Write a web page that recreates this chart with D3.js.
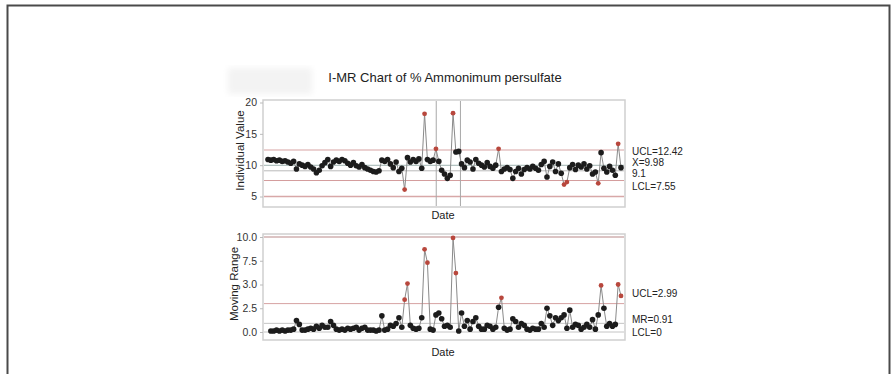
<!DOCTYPE html>
<html>
<head>
<meta charset="utf-8">
<script src="https://cdn.jsdelivr.net/npm/d3@7"></script>
<style>
  body { margin: 0; background: #fff; }
  svg { display: block; font-family: "Liberation Sans", Arial, sans-serif; }
</style>
</head>
<body>
<svg id="chart" width="895" height="374"></svg>
<script>
const individual = [
  10.9, 10.8, 10.9, 10.7, 10.8, 10.6, 10.7, 10.5, 10.3, 10.6,
  9.4, 10.2, 10.0, 9.8, 10.1, 9.7, 9.4, 8.8, 9.2, 9.9,
  10.4, 10.9, 9.8, 10.5, 10.8, 10.6, 10.9, 10.7, 10.3, 10.0,
  10.4, 9.9, 9.7, 10.1, 9.6, 9.4, 9.2, 9.0, 8.9, 9.1,
  10.8, 10.6, 10.9, 10.2, 9.6, 10.5, 9.0, 9.5, 6.1, 11.2,
  10.5, 10.9, 10.6, 11.0, 9.5, 18.2, 10.9, 10.6, 10.8, 12.6,
  10.6, 9.2, 8.6, 7.9, 8.4, 18.3, 12.1, 12.2, 10.2, 9.6,
  10.8, 10.5, 9.4, 10.9, 10.3, 10.0, 9.7, 10.4, 9.8, 9.5,
  10.0, 12.6, 9.0, 9.4, 9.6, 9.3, 7.9, 9.0, 9.5, 8.6,
  9.3, 9.6, 9.4, 9.8, 9.5, 9.2, 10.1, 10.6, 8.1, 9.8,
  10.5, 9.0, 10.2, 8.7, 6.9, 7.3, 9.6, 10.1, 9.3, 10.0,
  9.7, 10.2, 9.4, 9.9, 8.6, 8.9, 7.1, 12.0, 9.5, 8.9,
  9.8, 9.2, 8.4, 13.4, 9.6
];

// control limits
const iLimits = { ucl: 12.42, center: 9.98, mid: 9.1, lcl: 7.55, low: 5 };
const mrLimits = { ucl: 2.99, center: 0.91, lcl: 0 };

// stage break positions (observation index)
const stageBreaks = [59.1, 67.6];

// tick values and labels
const iTicks = [5, 10, 15, 20];
const iTickLabels = ['5', '10', '15', '20'];
const mrTicks = [0, 2.5, 5, 7.5, 10];
const mrTickLabels = ['0.0', '2.5', '3.0', '7.5', '10.0'];

const iLabels = ['UCL=12.42', 'X=9.98', '9.1', 'LCL=7.55'];
const mrLabels = ['UCL=2.99', 'MR=0.91', 'LCL=0'];

const svg = d3.select('#chart');

const defs = svg.append('defs');
defs.append('filter').attr('id', 'soft')
  .append('feGaussianBlur').attr('stdDeviation', 0.6);
defs.append('filter').attr('id', 'haze')
  .append('feGaussianBlur').attr('stdDeviation', 3);

// outer page frame
svg.append('rect')
  .attr('x', 7.5).attr('y', 5.5)
  .attr('width', 882).attr('height', 420)
  .attr('fill', 'none')
  .attr('stroke', '#4a4a4a')
  .attr('stroke-width', 2);

// faint grey patch left of the title
svg.append('rect')
  .attr('x', 228).attr('y', 68).attr('width', 84).attr('height', 26)
  .attr('fill', '#f3f3f3').attr('filter', 'url(#haze)');

svg.append('text')
  .attr('x', 445).attr('y', 82)
  .attr('text-anchor', 'middle')
  .attr('font-size', 13)
  .attr('fill', '#222')
  .text('I-MR Chart of % Ammonimum persulfate');

const n = individual.length;
const x = d3.scaleLinear().domain([0, n - 1]).range([268, 621]);

const mr = individual.map((v, i) => i === 0 ? null : Math.abs(v - individual[i - 1]));
const mrData = mr.map((v, i) => ({ i, v })).filter(d => d.v !== null);
const iData = individual.map((v, i) => ({ i, v }));

function panel(opts) {
  const g = svg.append('g');
  const y = opts.y;

  g.append('rect')
    .attr('x', 263).attr('y', opts.top)
    .attr('width', 362).attr('height', opts.bottom - opts.top)
    .attr('fill', '#fff')
    .attr('stroke', '#cfcfcf')
    .attr('stroke-width', 1.5);

  // reference lines
  opts.lines.forEach(l => {
    g.append('line')
      .attr('x1', 264).attr('x2', 624)
      .attr('y1', y(l.v)).attr('y2', y(l.v))
      .attr('stroke', l.color)
      .attr('stroke-width', l.w || 1);
  });

  (opts.breaks || []).forEach(b => {
    g.append('line')
      .attr('x1', x(b)).attr('x2', x(b))
      .attr('y1', opts.top + 1).attr('y2', opts.bottom - 1)
      .attr('stroke', '#a8a8a8');
  });

  const axis = d3.axisLeft(y)
    .tickValues(opts.ticks)
    .tickFormat((d, i) => opts.tickLabels[i])
    .tickSize(3)
    .tickPadding(3);
  const ax = g.append('g')
    .attr('transform', 'translate(263,0)')
    .call(axis);
  ax.select('.domain').remove();
  ax.selectAll('line').attr('stroke', '#bbb');
  ax.selectAll('text')
    .attr('font-size', 10.5)
    .attr('fill', '#333')
    .style('font-family', '"Liberation Sans", Arial, sans-serif');

  const line = d3.line().x(d => x(d.i)).y(d => y(d.v));
  g.append('path')
    .datum(opts.data)
    .attr('d', line)
    .attr('fill', 'none')
    .attr('stroke', '#8a8a8a')
    .attr('stroke-width', 1);

  g.append('g').attr('filter', 'url(#soft)')
    .selectAll('circle')
    .data(opts.data)
    .join('circle')
    .attr('cx', d => x(d.i))
    .attr('cy', d => y(d.v))
    .attr('r', d => opts.isOut(d.v) ? 2.4 : 2.8)
    .attr('fill', d => opts.isOut(d.v) ? '#b8473c' : '#1c1c1c');

  g.append('text')
    .attr('x', opts.ylabelX).attr('y', (opts.top + opts.bottom) / 2 - 3)
    .attr('transform', `rotate(-90,${opts.ylabelX},${(opts.top + opts.bottom) / 2 - 3})`)
    .attr('text-anchor', 'middle')
    .attr('dominant-baseline', 'central')
    .attr('font-size', 11.5)
    .attr('fill', '#222')
    .text(opts.ylabel);

  g.append('text')
    .attr('x', 443).attr('y', opts.dateY)
    .attr('text-anchor', 'middle')
    .attr('font-size', 11)
    .attr('fill', '#222')
    .text('Date');

  opts.rightLabels.forEach((t, i) => {
    g.append('text')
      .attr('x', 632).attr('y', opts.rightY[i])
      .attr('font-size', 10)
      .attr('fill', '#222')
      .text(t);
  });
}

panel({
  top: 100, bottom: 207,
  y: d3.scaleLinear().domain([5, 20]).range([196.5, 102.5]),
  ticks: iTicks, tickLabels: iTickLabels,
  data: iData,
  isOut: v => v > iLimits.ucl || v < iLimits.lcl,
  lines: [
    { v: iLimits.ucl, color: '#d7a3a3' },
    { v: iLimits.center, color: '#9fb3b0' },
    { v: iLimits.mid, color: '#b9b9b9' },
    { v: iLimits.lcl, color: '#d49c9c' },
    { v: iLimits.low, color: '#d8a8a8', w: 1.5 }
  ],
  breaks: stageBreaks,
  ylabel: 'Individual Value', ylabelX: 240,
  dateY: 219,
  rightLabels: iLabels,
  rightY: [155, 166, 177, 190]
});

panel({
  top: 234, bottom: 340,
  y: d3.scaleLinear().domain([0, 10]).range([332, 237]),
  ticks: mrTicks, tickLabels: mrTickLabels,
  data: mrData,
  isOut: v => v > mrLimits.ucl,
  lines: [
    { v: 10, color: '#dcc4c4', w: 2 },
    { v: mrLimits.ucl, color: '#d7a3a3' },
    { v: mrLimits.center, color: '#c4c4c4' },
    { v: mrLimits.lcl, color: '#c4c4c4' }
  ],
  ylabel: 'Moving Range', ylabelX: 234,
  dateY: 356,
  rightLabels: mrLabels,
  rightY: [297, 323, 336]
});
</script>
</body>
</html>
